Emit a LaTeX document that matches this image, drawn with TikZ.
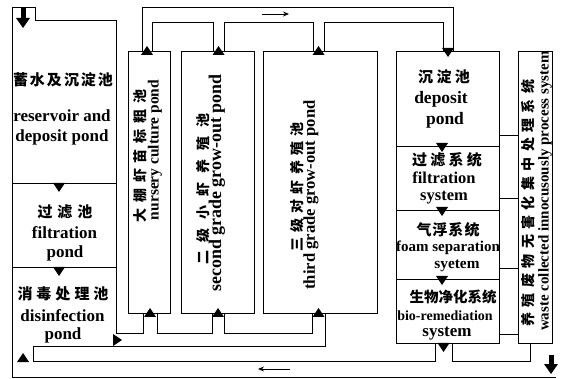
\documentclass[tikz,border=0pt]{standalone}
\usepackage{fontspec}
\setmainfont{Liberation Serif}
\newfontfamily\cjk{Noto Sans CJK SC}
\usetikzlibrary{arrows.meta}
\makeatletter
\newcommand\spc[2]{\begingroup\def\spc@k{#1}\@tfor\spc@c:=#2\do{\spc@c\kern\spc@k}\unkern\endgroup}
\makeatother
\newcommand\tdn[2]{\fill[tri] (#1-6,#2) -- (#1+6,#2) -- (#1,#2+9) -- cycle;}
\newcommand\tup[2]{\fill[tri] (#1-6,#2) -- (#1+6,#2) -- (#1,#2-9) -- cycle;}
\newcommand\trt[2]{\fill[tri] (#1,#2-6) -- (#1,#2+6) -- (#1+9,#2) -- cycle;}
\tikzset{
  wall/.style={line width=0.8pt, line join=miter},
  tri/.style={fill=black},
  en/.style={inner sep=0pt, font=\bfseries\fontsize{#1}{#1}\selectfont},
  en/.default=17,
  zh/.style={inner sep=0pt, font=\cjk\bfseries\fontsize{#1}{#1}\selectfont},
  zh/.default=15,
  flow/.style={line width=0.8pt, -{Stealth[length=6pt,width=5pt]}},
}
\begin{document}
\begin{tikzpicture}[x=1pt,y=-1pt]
\useasboundingbox (0,0) rectangle (565,379);
% ---------- left column and outer frame
\draw[wall] (116,333) -- (116,20) -- (35,20) -- (35,7) -- (12,7) -- (12,377) -- (556,377);
\draw[wall] (12,183) -- (116,183);
\draw[wall] (12,267) -- (116,267);
% inflow arrow
\fill[tri] (21,7) rectangle (26,18);
\fill[tri] (16,18) -- (30,18) -- (23,28) -- cycle;
\tdn{59}{183}
\tdn{59}{267}
% ---------- ponds
\draw[wall] (128,51) rectangle (170,313);
\draw[wall] (181,51) rectangle (254,313);
\draw[wall] (263,51) rectangle (377,313);
% ---------- right column
\draw[wall] (396,51) rectangle (499,343);
\draw[wall] (396,146) -- (499,146);
\draw[wall] (396,210) -- (499,210);
\draw[wall] (396,279) -- (499,279);
\tdn{442}{143}
\tdn{442}{207}
\tdn{442}{276}
\tdn{443.5}{343}
% ---------- waste box
\draw[wall] (518,51) rectangle (552,343);
\draw[wall] (499,135) -- (518,135);
\draw[wall] (499,198) -- (518,198);
\draw[wall] (499,268) -- (518,268);
\draw[wall] (499,334) -- (518,334);
% ---------- top channel
\draw[wall] (142,51) -- (142,7) -- (453,7) -- (453,51);
\draw[wall] (152,51) -- (152,22) -- (213,22) -- (213,51);
\draw[wall] (224,51) -- (224,22) -- (313,22) -- (313,51);
\draw[wall] (324,51) -- (324,22) -- (443,22) -- (443,51);
\tup{147}{55}
\tup{218.5}{55}
\tup{318.5}{55}
\tdn{448}{48}
% ---------- supply channel
\draw[wall] (116,333) -- (143,333) -- (143,313);
\draw[wall] (157,313) -- (157,333) -- (212,333) -- (212,313);
\draw[wall] (224,313) -- (224,333) -- (312,333) -- (312,313);
\draw[wall] (33,361) -- (33,346) -- (325,346) -- (325,313);
\trt{113}{340}
\tup{150}{317}
\tup{218}{317}
\tup{318.5}{317}
% ---------- return channel
\draw[wall] (33,361) -- (435,361) -- (435,343);
\draw[wall] (452,343) -- (452,361) -- (530,361) -- (530,343);
\tup{23}{362}
\fill[tri] (548.5,355) rectangle (553.5,364);
\fill[tri] (544,364) -- (558,364) -- (551,374) -- cycle;
% ---------- flow arrows
\coordinate (ra1) at (262,14);
\coordinate (ra2) at (289,14);
\draw[flow] (ra1) -- (ra2);
\coordinate (la1) at (290,369);
\coordinate (la2) at (258,369);
\draw[flow] (la1) -- (la2);
% ---------- texts, left column
\node[zh] (t1) at (63,80) {\spc{2pt}{蓄水及沉淀池}};
\node[en] (t2) at (62,116) {reservoir and};
\node[en] (t3) at (62,137) {deposit pond};
\node[zh] (t4) at (65,212) {\spc{5pt}{过滤池}};
\node[en] (t5) at (64.5,233) {filtration};
\node[en] (t6) at (65,253) {pond};
\node[zh] (t7) at (63,294) {\spc{4pt}{消毒处理池}};
\node[en] (t8) at (62.5,316) {disinfection};
\node[en] (t9) at (63,335) {pond};
% ---------- rotated texts
\node[zh=14,rotate=90] (n1) at (140,156) {\spc{5.7pt}{大棚虾苗标粗池}};
\node[en=15.5,rotate=90] (n2) at (155,150) {nursery culture pond};
\node[zh=14,rotate=90] (s1) at (203,189) {\spc{9pt}{二级小虾养殖池}};
\node[en=17.9,rotate=90] (s2) at (217,183) {second grade grow-out pond};
\node[zh=14,rotate=90] (h1) at (297.5,187) {\spc{5.3pt}{三级对虾养殖池}};
\node[en=16.6,rotate=90] (h2) at (311,195) {third grade grow-out pond};
\node[zh=14,rotate=90] (w1) at (528,203) {\spc{5.4pt}{养殖废物无害化集中处理系统}};
\node[en=15,rotate=90] (w2) at (545,191) {waste collected innocusously process system};
% ---------- texts, right column
\node[zh] (d1) at (444,77) {\spc{3.5pt}{沉淀池}};
\node[en=17.5] (d2) at (441,99) {deposit};
\node[en=17.5] (d3) at (445,120) {pond};
\node[zh] (f1) at (447,160) {\spc{3.3pt}{过滤系统}};
\node[en=16.5] (f2) at (444,178) {filtration};
\node[en=16.5] (f3) at (444,198) {system};
\node[zh] (g1) at (448,230) {\spc{1pt}{气浮系统}};
\node[en=15] (g2) at (448,248) {foam separation};
\node[en=15.3] (g3) at (457,266) {syetem};
\node[zh=14.5] (b1) at (453,297) {生物净化系统};
\node[en=14] (b2) at (445,316) {bio-remediation};
\node[en=17] (b3) at (447,334) {system};
\end{tikzpicture}
\end{document}
